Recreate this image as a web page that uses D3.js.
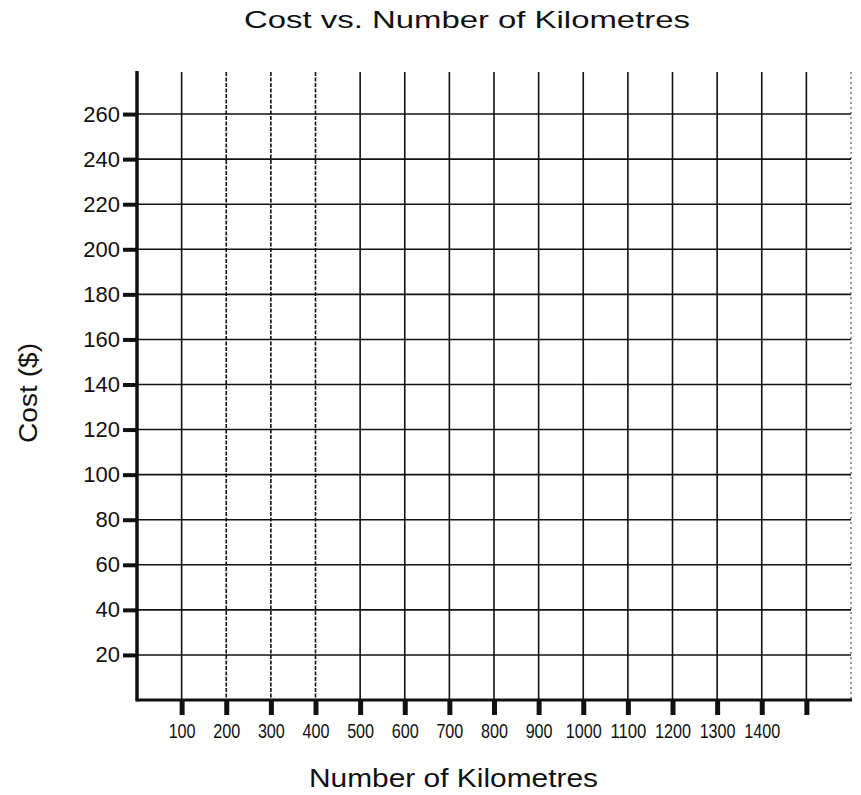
<!DOCTYPE html>
<html lang="en">
<head>
	<title>Cost vs. Number of Kilometres</title>
	<meta charset="utf-8">
	<script src="https://d3js.org/d3.v7.min.js" charset="utf-8"></script>
	<style>
		body { margin: 0; background: #fff; }
		text { font-family: "Liberation Sans", Arial, sans-serif; fill: #111; }
		.grid line { stroke: #111; stroke-width: 1.6; }
	</style>
</head>
<body>
	<script>
		// chart values
		var xTicks = [100, 200, 300, 400, 500, 600, 700, 800, 900, 1000, 1100, 1200, 1300, 1400, 1500];
		var xLabels = ["100", "200", "300", "400", "500", "600", "700", "800", "900", "1000", "1100", "1200", "1300", "1400", ""];
		var yTicks = [20, 40, 60, 80, 100, 120, 140, 160, 180, 200, 220, 240, 260];
		var xMax = 1600;
		var yMax = 280;

		var width = 861;
		var height = 795;

		var svg = d3.select("body")
			.append("svg")
			.attr("width", width)
			.attr("height", height);

		var x = d3.scaleLinear().domain([0, xMax]).range([137, 851]);
		var y = d3.scaleLinear().domain([0, yMax]).range([700, 69]);

		// grid
		var grid = svg.append("g").attr("class", "grid");

		grid.selectAll("line.v")
			.data(xTicks)
			.enter()
			.append("line")
			.attr("class", "v")
			.attr("x1", d => x(d)).attr("x2", d => x(d))
			.attr("y1", y(yMax) + 3).attr("y2", y(0))
			.attr("stroke-dasharray", d => (d >= 200 && d <= 400) ? "4,1.5" : null);

		grid.selectAll("line.h")
			.data(yTicks)
			.enter()
			.append("line")
			.attr("class", "h")
			.attr("x1", x(0)).attr("x2", x(xMax))
			.attr("y1", d => y(d)).attr("y2", d => y(d));

		// dotted right edge
		svg.append("line")
			.attr("x1", x(xMax)).attr("x2", x(xMax))
			.attr("y1", y(yMax) + 3).attr("y2", y(0))
			.attr("stroke", "#555")
			.attr("stroke-width", 1.2)
			.attr("stroke-dasharray", "2,3");

		// y axis
		var yAxis = d3.axisLeft(y)
			.tickValues(yTicks)
			.tickSize(14)
			.tickPadding(3);

		var gy = svg.append("g")
			.attr("transform", "translate(" + x(0) + ",0)")
			.call(yAxis);
		gy.select(".domain").remove();
		gy.selectAll(".tick line").attr("stroke", "#111").attr("stroke-width", 4);
		gy.selectAll(".tick text")
			.attr("font-size", 22)
			.style("font-family", "'Liberation Sans', Arial, sans-serif")
			.attr("fill", "#111");

		// x axis
		var xAxis = d3.axisBottom(x)
			.tickValues(xTicks)
			.tickFormat((d, i) => xLabels[i])
			.tickSize(15)
			.tickPadding(11);

		var gx = svg.append("g")
			.attr("transform", "translate(0," + y(0) + ")")
			.call(xAxis);
		gx.select(".domain").remove();
		gx.selectAll(".tick line").attr("stroke", "#111").attr("stroke-width", 5);
		gx.selectAll(".tick text")
			.attr("font-size", 20)
			.attr("dy", "0.6em")
			.attr("textLength", (d, i) => xLabels[i].length * 9 || null)
			.attr("lengthAdjust", "spacingAndGlyphs")
			.style("font-family", "'Liberation Sans', Arial, sans-serif")
			.attr("fill", "#111");

		// axis lines
		svg.append("line")
			.attr("x1", x(0)).attr("x2", x(0))
			.attr("y1", y(yMax) + 2).attr("y2", y(0) + 1.5)
			.attr("stroke", "#111").attr("stroke-width", 3.5);

		svg.append("line")
			.attr("x1", x(0)).attr("x2", x(xMax) + 1)
			.attr("y1", y(0)).attr("y2", y(0))
			.attr("stroke", "#111").attr("stroke-width", 3);

		// titles
		svg.append("text")
			.attr("x", 244).attr("y", 28)
			.attr("font-size", 24)
			.attr("textLength", 446)
			.attr("lengthAdjust", "spacingAndGlyphs")
			.text("Cost vs. Number of Kilometres");

		svg.append("text")
			.attr("x", 309).attr("y", 787)
			.attr("font-size", 25)
			.attr("textLength", 289)
			.attr("lengthAdjust", "spacingAndGlyphs")
			.text("Number of Kilometres");

		svg.append("text")
			.attr("transform", "translate(37,443) rotate(-90)")
			.attr("font-size", 26)
			.attr("textLength", 100)
			.attr("lengthAdjust", "spacingAndGlyphs")
			.text("Cost ($)");
	</script>
</body>
</html>
